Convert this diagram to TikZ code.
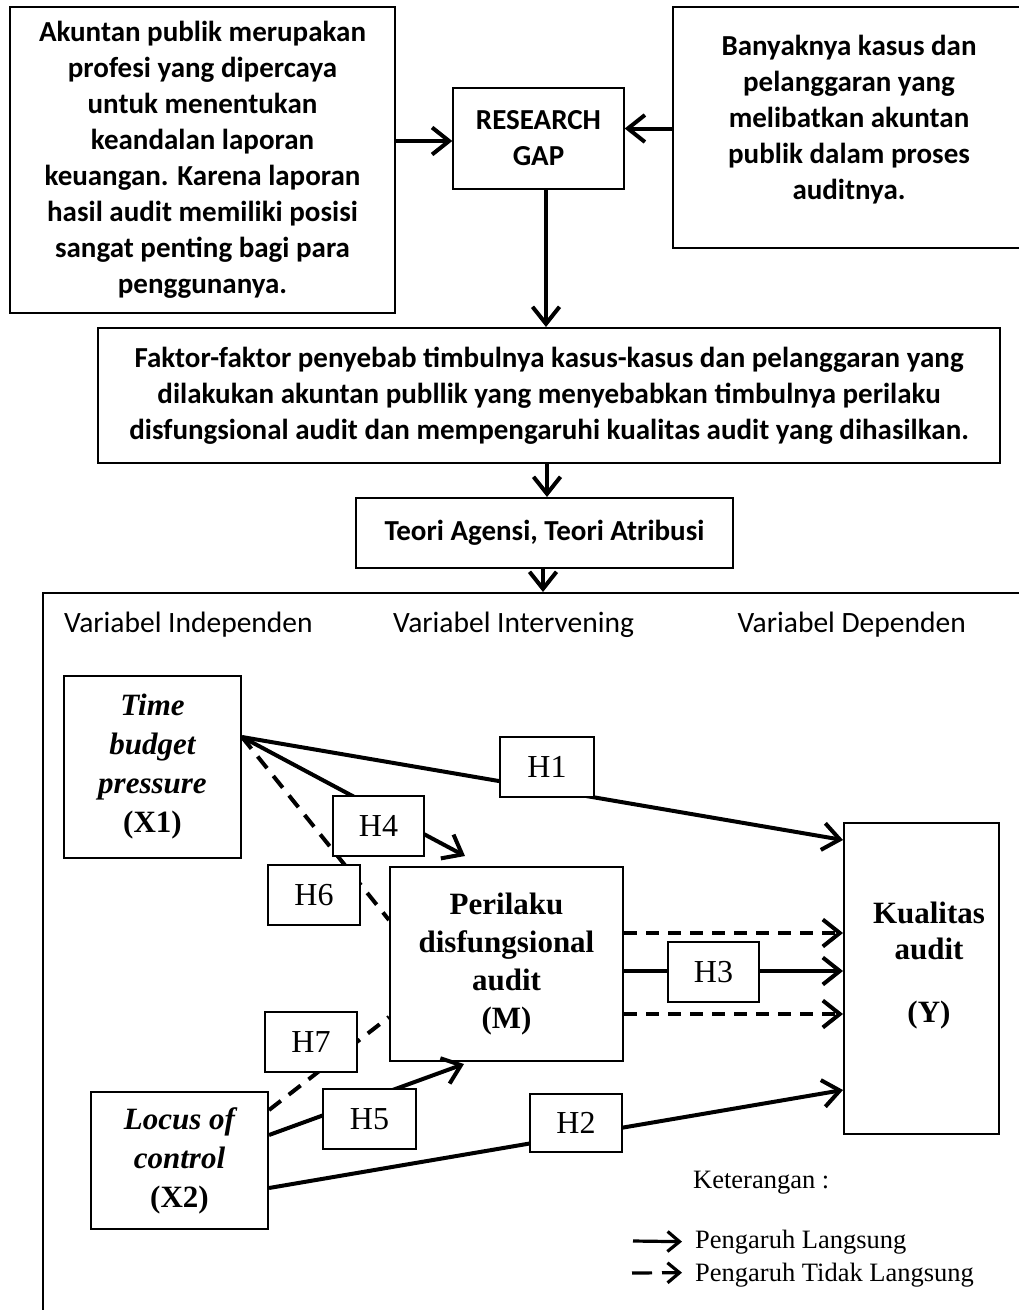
\documentclass[tikz,border=0pt]{standalone}
\usepackage{fontspec}
\setmainfont{Liberation Serif}
\newfontfamily\cb{Carlito}
\usetikzlibrary{arrows.meta}
\begin{document}
\begin{tikzpicture}[x=1pt,y=-1pt,
  box/.style={draw, fill=white, line width=2pt, align=center, inner sep=0pt},
  topbox/.style={box, font=\cb\bfseries\fontsize{29}{36}\selectfont},
  toptext/.style={align=center, inner sep=0pt, font=\cb\bfseries\fontsize{29}{36}\selectfont},
  varbox/.style={box, font=\bfseries\fontsize{31}{39}\selectfont},
  hbox/.style={draw, fill=white, line width=1.3pt, font=\fontsize{32}{36}\selectfont, inner sep=0pt},
  conn/.style={line width=4pt, -{Straight Barb[length=17pt,width=27pt]}},
  dconn/.style={conn, dash pattern=on 13pt off 9pt},
  plain/.style={line width=4pt},
  dplain/.style={plain, dash pattern=on 15pt off 10pt},
  legarrow/.style={line width=3.2pt, -{Straight Barb[length=12pt,width=20pt]}},
  vlabel/.style={font=\cb\fontsize{29.5}{34}\selectfont, inner sep=0pt},
  leg/.style={font=\fontsize{26.5}{30}\selectfont, inner sep=0pt},
]
\useasboundingbox (0,0) rectangle (1019,1310);

% big frame
\node[box, minimum width=997pt, minimum height=737pt] (big) at (541.5,961.5) {};

% top section
\node[topbox, line width=2.5pt, minimum width=385pt, minimum height=306pt] (tl) at (202.5,160)
  {Akuntan publik merupakan\\profesi yang dipercaya\\untuk menentukan\\keandalan laporan\\keuangan. Karena laporan\\hasil audit memiliki posisi\\sangat penting bagi para\\penggunanya.};
\node[topbox, line width=1.4pt, minimum width=171pt, minimum height=101pt] (rg) at (538.5,138.5) {RESEARCH\\GAP};
\node[box, line width=2.5pt, minimum width=368pt, minimum height=241pt] (tr) at (857,127.5) {};
\node[toptext] (trt) at (849,120) {Banyaknya kasus dan\\pelanggaran yang\\melibatkan akuntan\\publik dalam proses\\auditnya.};
\node[topbox, minimum width=902pt, minimum height=135pt] (fk) at (549,395.5)
  {Faktor-faktor penyebab timbulnya kasus-kasus dan pelanggaran yang\\dilakukan akuntan publlik yang menyebabkan timbulnya perilaku\\disfungsional audit dan mempengaruhi kualitas audit yang dihasilkan.};
\node[topbox, minimum width=377pt, minimum height=70pt] (te) at (544.5,533) {Teori Agensi, Teori Atribusi};

\draw[conn] ([yshift=19pt]tl.east) -- ([yshift=-2.5pt]rg.west);
\draw[conn] ([yshift=-1pt]tr.west) -- ([yshift=10pt]rg.east);
\draw[conn] ([xshift=7.5pt]rg.south) -- ([xshift=-3pt]fk.north);
\draw[conn] ([xshift=-2pt]fk.south) -- ([xshift=2.5pt]te.north);
\draw[conn] ([xshift=-1.5pt]te.south) -- ([xshift=1.5pt]big.north);

% variable headings
\node[vlabel, anchor=base west] (vi) at (64,632) {Variabel Independen};
\node[vlabel, anchor=base west] (vm) at (393,632) {Variabel Intervening};
\node[vlabel, anchor=base east] (vd) at (966,632) {Variabel Dependen};

% variable boxes
\node[varbox, minimum width=177pt, minimum height=182pt] (x1) at (152.5,767)
  {{\itshape Time}\\{\itshape budget}\\{\itshape pressure}\\(X1)};
\node[varbox, minimum width=177pt, minimum height=137pt] (x2) at (179.5,1160.5)
  {{\itshape Locus of}\\{\itshape control}\\(X2)};
\node[varbox, font=\bfseries\fontsize{31}{38}\selectfont, minimum width=233pt, minimum height=194pt] (m) at (506.5,964)
  {Perilaku\\disfungsional\\audit\\(M)};
\node[box, minimum width=155pt, minimum height=311pt] (yb) at (921.5,978.5) {};
\node[align=center, inner sep=0pt, font=\bfseries\fontsize{31}{36}\selectfont] (ybt) at (929,966)
  {Kualitas\\audit\\[27pt](Y)};

% connectors
\draw[conn] ([yshift=30pt]x1.east) -- ([yshift=138.5pt]yb.west);
\draw[conn] ([yshift=30pt]x1.east) -- ([xshift=-41.5pt,yshift=10pt]m.north);
\draw[dplain] ([yshift=30pt]x1.east) -- ([yshift=44pt]m.west);
\draw[dplain] ([yshift=50.5pt]x2.east) -- ([yshift=-53pt]m.west);
\draw[conn] ([yshift=25.5pt]x2.east) -- ([xshift=-42.5pt,yshift=-2pt]m.south);
\draw[conn] ([yshift=-27.5pt]x2.east) -- ([yshift=-111.5pt]yb.west);
\draw[conn] ([yshift=-7pt]m.east) -- ([yshift=7.5pt]yb.west);
\draw[dconn] ([yshift=31pt]m.east) -- ([yshift=45.5pt]yb.west);
\draw[dconn] ([yshift=-50pt]m.east) -- ([yshift=-35.5pt]yb.west);

% hypothesis labels
\node[hbox, minimum width=94pt, minimum height=60pt] (h1) at (547,767) {H1};
\node[hbox, minimum width=91pt, minimum height=60pt] (h4) at (378.5,826) {H4};
\node[hbox, minimum width=92pt, minimum height=60pt] (h6) at (314,895) {H6};
\node[hbox, minimum width=91pt, minimum height=60pt] (h3) at (713.5,972) {H3};
\node[hbox, minimum width=92pt, minimum height=60pt] (h7) at (311,1042) {H7};
\node[hbox, minimum width=93pt, minimum height=60pt] (h5) at (369.5,1119) {H5};
\node[hbox, minimum width=92pt, minimum height=58pt] (h2) at (576,1123) {H2};

% legend
\node[leg, anchor=base west] (ket) at (693,1188) {Keterangan :};
\node[leg, anchor=base west] (l1) at (695,1248) {Pengaruh Langsung};
\node[leg, anchor=base west] (l2) at (695,1281) {Pengaruh Tidak Langsung};
\coordinate (l1s) at (633,1241);
\coordinate (l2s) at (632,1273);
\draw[legarrow] (l1s) -- ([xshift=-13pt]l1.west);
\draw[legarrow, dash pattern=on 20pt off 10pt] (l2s) -- ([xshift=-13pt,yshift=2pt]l2.west);
\end{tikzpicture}
\end{document}
